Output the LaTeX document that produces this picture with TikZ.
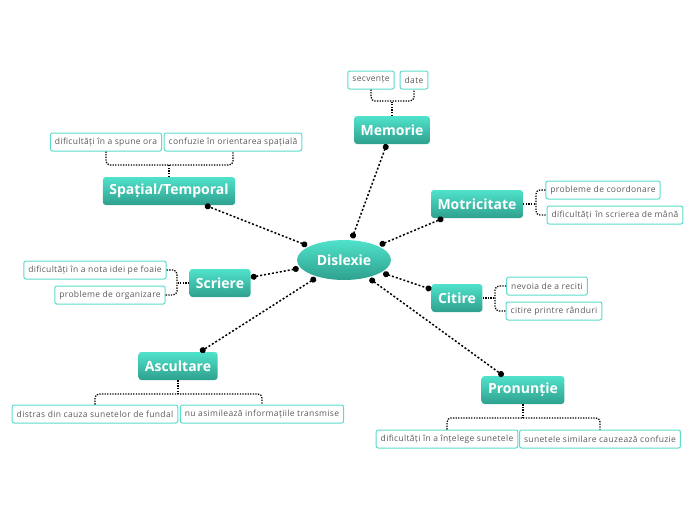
\documentclass[tikz,border=0pt]{standalone}
\usepackage{fontspec}
\setmainfont{Open Sans}
\newfontfamily\leaffont[LetterSpace=4]{Open Sans}
\usetikzlibrary{shapes.geometric,arrows.meta,positioning}
\definecolor{tealtop}{HTML}{50E2CB}
\definecolor{tealbot}{HTML}{2EA08E}
\definecolor{leafline}{HTML}{5CDCCB}
\definecolor{leaftext}{HTML}{5A5A5A}
\begin{document}
\begin{tikzpicture}
  [x=1pt,y=-1pt,
   topic/.style={rounded corners=3pt,top color=tealtop,bottom color=tealbot,text=white,
     font=\bfseries\fontsize{14}{16}\selectfont,minimum height=28pt,inner xsep=6.5pt},
   leaf/.style={draw=leafline,line width=1pt,rounded corners=2pt,fill=white,text=leaftext,
     font=\leaffont\fontsize{8.5}{10}\selectfont,minimum height=18pt,inner xsep=4.5pt},
   link/.style={line width=1.5pt,dash pattern=on 2pt off 2pt,
     {Circle[length=6pt]}-{Circle[length=6pt]}},
   twig/.style={line width=1.3pt,dash pattern=on 1.3pt off 1.3pt,rounded corners=4pt}]
  \useasboundingbox (0,0) rectangle (696,520);
  % central topic
  \node (dis) [ellipse,top color=tealtop,bottom color=tealbot,text=white,
    font=\bfseries\fontsize{14}{16}\selectfont,minimum width=94pt,minimum height=40pt,
    outer sep=2pt] at (344,260) {Dislexie};
  % main topics
  \node (mem) [topic] at (392,130) {Memorie};
  \node (spt) [topic] at (169,191) {Spațial/Temporal};
  \node (mot) [topic] at (477,204) {Motricitate};
  \node (scr) [topic] at (220,283) {Scriere};
  \node (cit) [topic] at (457,298) {Citire};
  \node (asc) [topic] at (178,366) {Ascultare};
  \node (pro) [topic] at (523,390) {Pronunție};
  \foreach \to in {mem,spt,mot,scr,cit,asc,pro}
    \draw[link] (dis) -- (\to);
  % leaves
  \node (secv) [leaf] at (371,80) {secvențe};
  \node (date) [leaf] at (414,80) {date};
  \node (ora) [leaf] at (106,142) {dificultăți în a spune ora};
  \node (orient) [leaf] at (233,142) {confuzie în orientarea spațială};
  \node (coord) [leaf] at (603,190) {probleme de coordonare};
  \node (mana) [leaf] at (615,215) {dificultăți\, în scrierea de mână};
  \node (idei) [leaf] at (95,270) {dificultăți în a nota idei pe foaie};
  \node (org) [leaf] at (110,295) {probleme de organizare};
  \node (recit) [leaf] at (547,286) {nevoia de a reciti};
  \node (rand) [leaf] at (554,311) {citire printre rânduri};
  \node (fundal) [leaf] at (95,414) {distras din cauza sunetelor de fundal};
  \node (transm) [leaf] at (262,414) {nu asimilează informațiile transmise};
  \node (intel) [leaf] at (447,439) {dificultăți în a înțelege sunetele};
  \node (conf) [leaf] at (600,439) {sunetele similare cauzează confuzie};
  % joints
  \coordinate (memj) at (392,101);
  \coordinate (sptj) at (169,165);
  \coordinate (motj) at (536,204);
  \coordinate (scrj) at (177,283);
  \coordinate (citj) at (495,298);
  \coordinate (ascj) at (178,394);
  \coordinate (proj) at (523,418);
  \draw[twig] (secv.south) |- (memj) -| (date.south);
  \draw[twig] (mem.north) -- (memj);
  \draw[twig] (ora.south) |- (sptj) -| (orient.south);
  \draw[twig] (spt.north) -- (sptj);
  \draw[twig] (coord.west) -| (motj) |- (mana.west);
  \draw[twig] (mot.east) -- (motj);
  \draw[twig] (idei.east) -| (scrj) |- (org.east);
  \draw[twig] (scr.west) -- (scrj);
  \draw[twig] (recit.west) -| (citj) |- (rand.west);
  \draw[twig] (cit.east) -- (citj);
  \draw[twig] (fundal.north) |- (ascj) -| (transm.north);
  \draw[twig] (asc.south) -- (ascj);
  \draw[twig] (intel.north) |- (proj) -| (conf.north);
  \draw[twig] (pro.south) -- (proj);
\end{tikzpicture}
\end{document}
